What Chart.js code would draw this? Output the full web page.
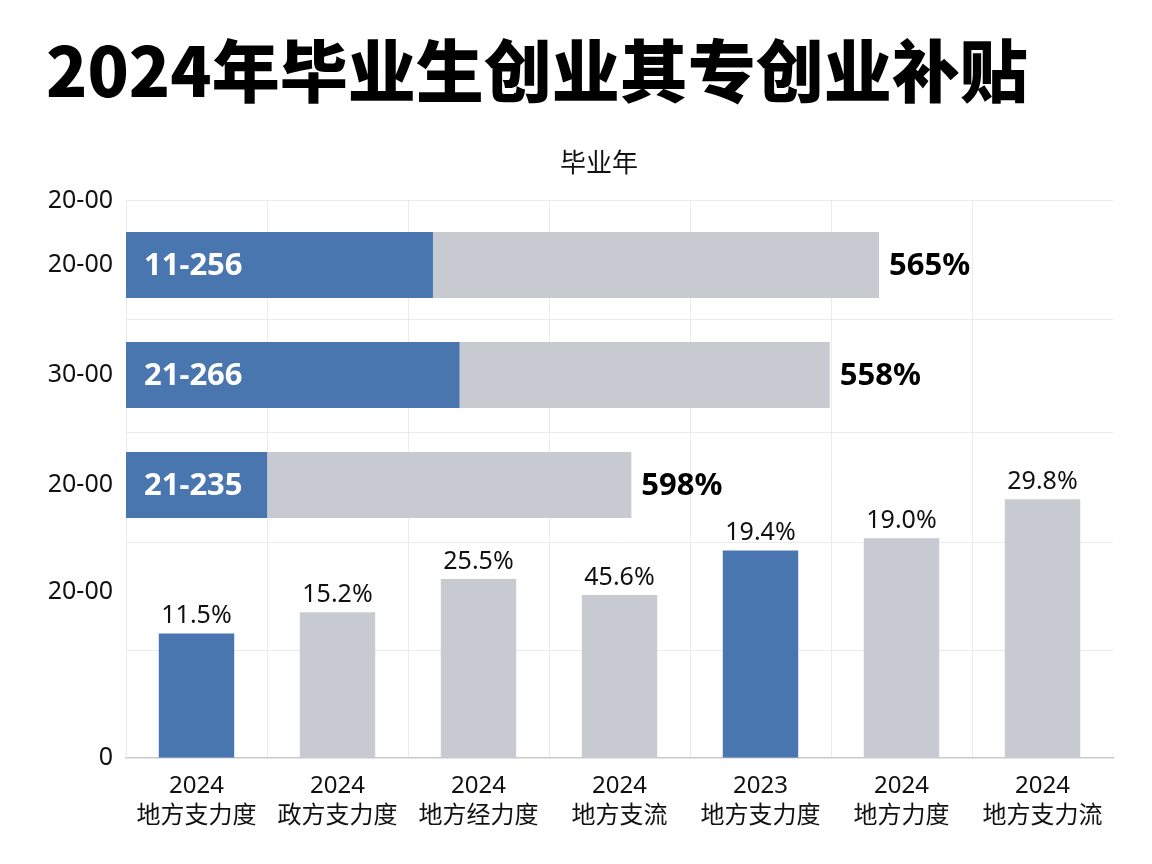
<!DOCTYPE html>
<html lang="zh-CN">
<head>
<meta charset="utf-8">
<title>2024年毕业生创业其专创业补贴</title>
<script src="https://cdn.jsdelivr.net/npm/chart.js@4.4.1/dist/chart.umd.min.js"></script>
<style>
  html, body { margin: 0; padding: 0; background: #ffffff; }
  #wrap { position: relative; width: 1152px; height: 864px; background: #ffffff; }
  #wrap canvas { position: absolute; left: 0; top: 0; }
  #overlay { pointer-events: none; }
</style>
</head>
<body>
<div id="wrap">
  <canvas id="main" width="1152" height="864"></canvas>
  <canvas id="overlay" width="1152" height="864"></canvas>
</div>
<script>
// ---- data ----
const titleText = '2024年毕业生创业其专创业补贴';
const subtitleText = '毕业年';

const categoryYears = ['2024', '2024', '2024', '2024', '2023', '2024', '2024'];
const categoryNames = ['地方支力度', '政方支力度', '地方经力度', '地方支流', '地方支力度', '地方力度', '地方支力流'];
const barValues = [22.3, 26.1, 32.1, 29.2, 37.2, 39.4, 46.4];
const barLabels = ['11.5%', '15.2%', '25.5%', '45.6%', '19.4%', '19.0%', '29.8%'];
const barHighlight = [true, false, false, false, true, false, false];

const yTickValues = [100, 29.7, 0];
const yTickLabels = ['20-00', '20-00', '0'];
const gridTickValues = [0, 19.2, 38.7, 58.3, 78.6, 100];

const rowLabels = ['20-00', '30-00', '20-00'];
const rowBlueValues = [31.1, 33.8, 14.3];
const rowGrayValues = [45.2, 37.5, 36.9];
const rowInnerLabels = ['11-256', '21-266', '21-235'];
const rowEndLabels = ['565%', '558%', '598%'];

// ---- styles ----
const BLUE = '#4a76b0';
const GRAY = '#c7cbd1';
const GRID = '#ebebeb';
const TEXT = '#111111';
const LATIN = '"Noto Sans", "Noto Sans CJK SC", sans-serif';
const CJK = '"Noto Sans CJK SC", "Noto Sans", sans-serif';

Chart.defaults.font.family = LATIN;
Chart.defaults.color = TEXT;

const xLabels = categoryYears.map((y, i) => [y, categoryNames[i]]);

const valueLabelPlugin = {
  id: 'valueLabels',
  afterDatasetsDraw(chart) {
    const ctx = chart.ctx;
    const meta = chart.getDatasetMeta(0);
    ctx.save();
    ctx.font = '25px ' + LATIN;
    ctx.fillStyle = TEXT;
    ctx.textAlign = 'center';
    ctx.textBaseline = 'alphabetic';
    meta.data.forEach((el, i) => {
      ctx.fillText(barLabels[i], el.x, el.y - 10);
    });
    ctx.restore();
  }
};

const bgPlugin = {
  id: 'bg',
  beforeDraw(chart) {
    const ctx = chart.ctx;
    ctx.save();
    ctx.fillStyle = '#ffffff';
    ctx.fillRect(0, 0, chart.width, chart.height);
    ctx.restore();
  }
};

new Chart(document.getElementById('main'), {
  type: 'bar',
  data: {
    labels: xLabels,
    datasets: [{
      data: barValues,
      backgroundColor: (c) => barHighlight[c.dataIndex] ? BLUE : GRAY,
      barPercentage: 0.535,
      categoryPercentage: 1.0,
      borderWidth: 0
    }]
  },
  options: {
    responsive: false,
    animation: false,
    devicePixelRatio: 1,
    layout: { padding: { left: 46, right: 0, top: 0, bottom: 33 } },
    plugins: {
      legend: { display: false },
      tooltip: { enabled: false },
      title: {
        display: true,
        text: titleText,
        align: 'start',
        color: '#000000',
        font: { family: CJK, size: 68, weight: 900, lineHeight: 1.2 },
        padding: { top: 30, bottom: 0 }
      },
      subtitle: {
        display: true,
        text: subtitleText,
        align: 'center',
        color: TEXT,
        font: { family: CJK, size: 26, weight: 'normal', lineHeight: 1.2 },
        padding: { top: 34.8, bottom: 23.1 }
      }
    },
    scales: {
      x: {
        grid: {
          color: (c) => c.type === 'tick' ? GRID : 'rgba(0,0,0,0)',
          drawTicks: false,
          offset: true
        },
        border: { color: '#c9c9c9', width: 1.5 },
        afterFit: (scale) => { scale.height = 73.3; },
        ticks: {
          color: TEXT,
          padding: 13,
          maxRotation: 0,
          autoSkip: false,
          font: { family: LATIN, size: 24, lineHeight: 1.25 }
        }
      },
      y: {
        position: 'left',
        min: 0,
        max: 100,
        grid: { display: false, drawTicks: false },
        border: { color: GRID },
        afterBuildTicks: (scale) => { scale.ticks = yTickValues.map(v => ({ value: v })); },
        afterFit: (scale) => { scale.width = 80; },
        ticks: {
          color: TEXT,
          padding: 13,
          autoSkip: false,
          font: { family: LATIN, size: 25 },
          callback: (v, i) => yTickLabels[i]
        }
      },
      yGrid: {
        position: 'right',
        min: 0,
        max: 100,
        grid: { color: GRID, drawTicks: false },
        border: { display: false },
        afterBuildTicks: (scale) => { scale.ticks = gridTickValues.map(v => ({ value: v })); },
        afterFit: (scale) => { scale.width = 39; },
        ticks: { display: false }
      }
    }
  },
  plugins: [bgPlugin, valueLabelPlugin]
});

const rowLabelPlugin = {
  id: 'rowLabels',
  afterDatasetsDraw(chart) {
    const ctx = chart.ctx;
    ctx.save();
    ctx.font = 'bold 31px ' + LATIN;
    ctx.textBaseline = 'middle';
    ctx.textAlign = 'left';
    const m0 = chart.getDatasetMeta(0);
    ctx.fillStyle = '#ffffff';
    m0.data.forEach((el, i) => {
      ctx.fillText(rowInnerLabels[i], el.base + 18, el.y + 1);
    });
    const m1 = chart.getDatasetMeta(1);
    ctx.fillStyle = '#000000';
    m1.data.forEach((el, i) => {
      ctx.fillText(rowEndLabels[i], el.x + 10, el.y + 1);
    });
    ctx.restore();
  }
};

new Chart(document.getElementById('overlay'), {
  type: 'bar',
  data: {
    labels: rowLabels,
    datasets: [
      { data: rowBlueValues, backgroundColor: BLUE, borderWidth: 0, barPercentage: 0.6, categoryPercentage: 1.0 },
      { data: rowGrayValues, backgroundColor: GRAY, borderWidth: 0, barPercentage: 0.6, categoryPercentage: 1.0 }
    ]
  },
  options: {
    indexAxis: 'y',
    responsive: false,
    animation: false,
    devicePixelRatio: 1,
    layout: { padding: { left: 46, right: 39, top: 210, bottom: 324 } },
    plugins: {
      legend: { display: false },
      tooltip: { enabled: false },
      title: { display: false }
    },
    scales: {
      x: { display: false, stacked: true, min: 0, max: 100 },
      y: {
        stacked: true,
        grid: { display: false, drawTicks: false },
        border: { display: false },
        afterFit: (scale) => { scale.width = 80; },
        ticks: {
          color: TEXT,
          padding: 13,
          autoSkip: false,
          font: { family: LATIN, size: 25 }
        }
      }
    }
  },
  plugins: [rowLabelPlugin]
});
</script>
</body>
</html>
